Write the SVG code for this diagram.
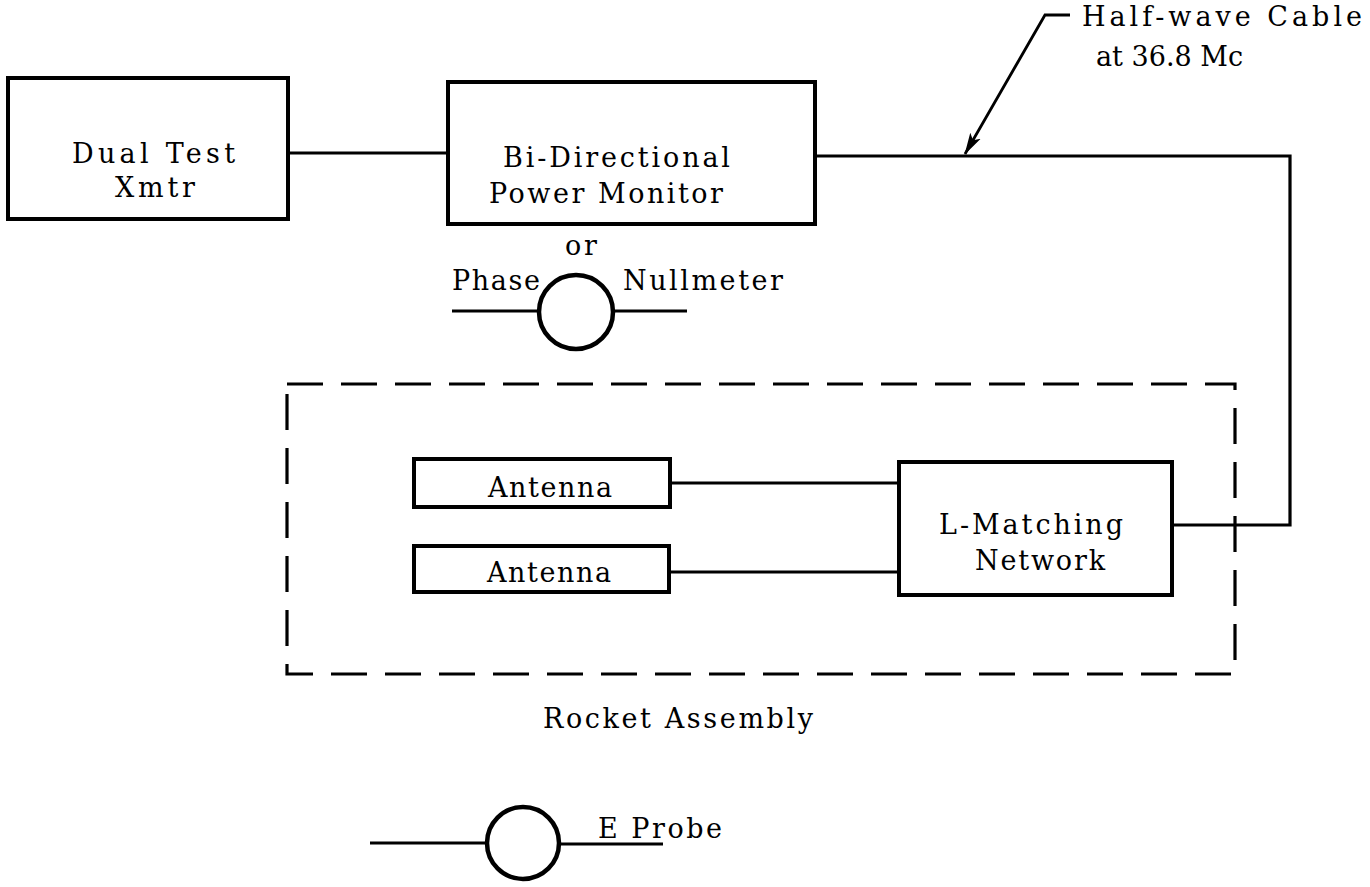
<svg xmlns="http://www.w3.org/2000/svg" width="1370" height="887" viewBox="0 0 1370 887">
<style>
.box{fill:#fff;stroke:#000;stroke-width:4}
.ln{fill:none;stroke:#000;stroke-width:3.2}
.circ{fill:#fff;stroke:#000;stroke-width:4.5}
.dash{fill:none;stroke:#000;stroke-width:3.2;stroke-dasharray:36 18}
text{font-family:"DejaVu Serif","Liberation Serif",serif;font-size:27px;fill:#000}
</style>
<defs>
<marker id="ah" markerWidth="22" markerHeight="14" refX="21" refY="7" orient="auto" markerUnits="userSpaceOnUse">
<path d="M0,1 L22,7 L0,13 L5,7 Z" fill="#000"/>
</marker>
</defs>
<rect width="1370" height="887" fill="#fff"/>
<g id="connectors">
<line class="ln" x1="288" y1="153" x2="448" y2="153"/>
<polyline class="ln" points="815,156 1290,156 1290,525 1172,525"/>
<line class="ln" x1="670" y1="483" x2="899" y2="483"/>
<line class="ln" x1="669" y1="572" x2="899" y2="572"/>
<polyline class="ln" points="1070,15 1045,15 965,154" marker-end="url(#ah)" style="stroke-width:2.8"/>
</g>
<g id="dual-test-xmtr">
<rect class="box" x="8" y="78" width="280" height="141"/>
<text x="72" y="163" textLength="163" lengthAdjust="spacing">Dual Test</text>
<text x="115" y="197" textLength="80" lengthAdjust="spacing">Xmtr</text>
</g>
<g id="power-monitor">
<rect class="box" x="448" y="82" width="367" height="142"/>
<text x="503" y="167" textLength="227" lengthAdjust="spacing">Bi-Directional</text>
<text x="489" y="203" textLength="234" lengthAdjust="spacing">Power Monitor</text>
</g>
<g id="cable-label">
<text x="1082" y="26" textLength="280" lengthAdjust="spacing">Half-wave Cable</text>
<text x="1096" y="66" textLength="147" lengthAdjust="spacing">at 36.8 Mc</text>
</g>
<g id="phase-nullmeter">
<text x="565" y="255" textLength="32" lengthAdjust="spacing">or</text>
<line class="ln" x1="452" y1="311" x2="540" y2="311"/>
<line class="ln" x1="612" y1="311" x2="687" y2="311"/>
<circle class="circ" cx="576" cy="312" r="37"/>
<text x="452" y="290" textLength="88" lengthAdjust="spacing">Phase</text>
<text x="623" y="290" textLength="160" lengthAdjust="spacing">Nullmeter</text>
</g>
<g id="rocket-assembly">
<rect class="dash" x="287" y="384" width="948" height="290"/>
<text x="543" y="728" textLength="270" lengthAdjust="spacing">Rocket Assembly</text>
</g>
<g id="antenna-1">
<rect class="box" x="414" y="459" width="256" height="48"/>
<text x="488" y="497" textLength="124" lengthAdjust="spacing">Antenna</text>
</g>
<g id="antenna-2">
<rect class="box" x="414" y="546" width="255" height="46"/>
<text x="487" y="582" textLength="124" lengthAdjust="spacing">Antenna</text>
</g>
<g id="l-matching">
<rect class="box" x="899" y="462" width="273" height="133"/>
<text x="939" y="534" textLength="184" lengthAdjust="spacing">L-Matching</text>
<text x="975" y="570" textLength="130" lengthAdjust="spacing">Network</text>
</g>
<g id="e-probe">
<line class="ln" x1="370" y1="843" x2="487" y2="843"/>
<line class="ln" x1="559" y1="844" x2="663" y2="844"/>
<circle class="circ" cx="523" cy="843" r="36"/>
<text x="598" y="838" textLength="124" lengthAdjust="spacing">E Probe</text>
</g>
</svg>
